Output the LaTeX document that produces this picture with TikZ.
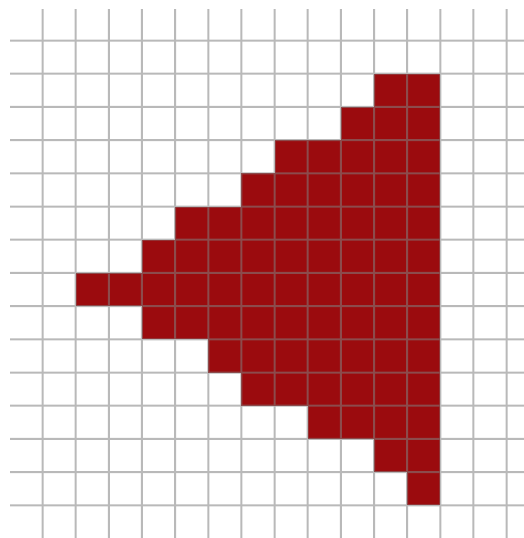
\documentclass[tikz,border=0pt]{standalone}
\definecolor{cellred}{HTML}{9B0B0E}
\definecolor{linegray}{RGB}{128,128,128}
\tikzset{
  cellfill/.style={fill=cellred},
  gridline/.style={draw=linegray, line width=2pt}
}
\begin{document}
\begin{tikzpicture}[x=1pt,y=-1pt]
\useasboundingbox[fill=white] (0,0) rectangle (524,538);
\foreach \r/\s in {1/10,2/9,3/7,4/6,5/4,6/3,7/1,8/3,9/5,10/6,11/8,12/10,13/11}{
  \fill[cellfill] ({42.5+33.15*\s},{40.5+33.2*\r}) rectangle ({42.5+33.15*12},{40.5+33.2*(\r+1)});
}
\begin{scope}[transparency group, opacity=0.55]
\foreach \k in {0,...,14}{
  \draw[gridline] (10,{40.5+33.2*\k}) -- (524,{40.5+33.2*\k});
  \draw[gridline] ({42.5+33.15*\k},9) -- ({42.5+33.15*\k},538);
}
\end{scope}
\end{tikzpicture}
\end{document}
